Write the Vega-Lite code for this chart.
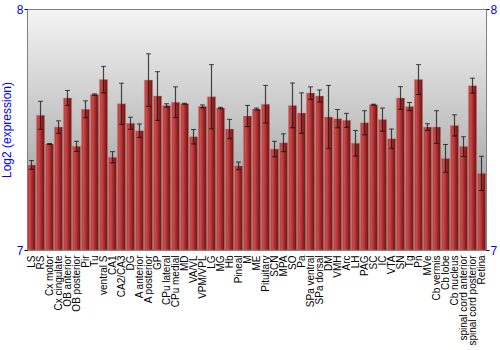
{
  "$schema": "https://vega.github.io/schema/vega-lite/v6.json",
  "width": 459,
  "height": 241,
  "autosize": {"type": "none"},
  "padding": {"left": 27, "top": 9, "right": 14, "bottom": 100},
  "background": "#ffffff",
  "config": {
    "font": "Liberation Sans",
    "view": {
      "stroke": "#808080",
      "strokeWidth": 1,
      "fill": {"gradient": "linear", "x1": 0, "y1": 0, "x2": 0, "y2": 1,
        "stops": [{"offset": 0, "color": "#f4f4f4"}, {"offset": 1, "color": "#8e8e8e"}]}
    }
  },
  "data": {"values": [
    {"region": "LS", "value": 7.353, "lo": 7.335, "hi": 7.371},
    {"region": "RS", "value": 7.559, "lo": 7.501, "hi": 7.617},
    {"region": "Cx motor", "value": 7.440, "lo": 7.438, "hi": 7.442},
    {"region": "Cx cingulate", "value": 7.510, "lo": 7.484, "hi": 7.536},
    {"region": "OB anterior", "value": 7.631, "lo": 7.600, "hi": 7.662},
    {"region": "OB posterior", "value": 7.430, "lo": 7.409, "hi": 7.451},
    {"region": "Pir", "value": 7.584, "lo": 7.549, "hi": 7.619},
    {"region": "Tu", "value": 7.645, "lo": 7.642, "hi": 7.648},
    {"region": "ventral S", "value": 7.707, "lo": 7.652, "hi": 7.762},
    {"region": "CA1", "value": 7.385, "lo": 7.362, "hi": 7.408},
    {"region": "CA2/CA3", "value": 7.607, "lo": 7.522, "hi": 7.692},
    {"region": "DG", "value": 7.526, "lo": 7.501, "hi": 7.551},
    {"region": "A anterior", "value": 7.495, "lo": 7.467, "hi": 7.523},
    {"region": "A posterior", "value": 7.705, "lo": 7.596, "hi": 7.814},
    {"region": "GP", "value": 7.639, "lo": 7.538, "hi": 7.740},
    {"region": "CPu lateral", "value": 7.600, "lo": 7.593, "hi": 7.607},
    {"region": "CPu medial", "value": 7.613, "lo": 7.549, "hi": 7.677},
    {"region": "MD", "value": 7.607, "lo": 7.605, "hi": 7.609},
    {"region": "VA/VL", "value": 7.470, "lo": 7.440, "hi": 7.500},
    {"region": "VPM/VPL", "value": 7.596, "lo": 7.590, "hi": 7.602},
    {"region": "LG", "value": 7.636, "lo": 7.503, "hi": 7.769},
    {"region": "MG", "value": 7.589, "lo": 7.586, "hi": 7.592},
    {"region": "Hb", "value": 7.502, "lo": 7.462, "hi": 7.542},
    {"region": "Pineal", "value": 7.349, "lo": 7.333, "hi": 7.365},
    {"region": "M", "value": 7.556, "lo": 7.512, "hi": 7.600},
    {"region": "ME", "value": 7.585, "lo": 7.581, "hi": 7.589},
    {"region": "Pituitary", "value": 7.605, "lo": 7.527, "hi": 7.683},
    {"region": "SCN", "value": 7.419, "lo": 7.387, "hi": 7.451},
    {"region": "MPA", "value": 7.445, "lo": 7.408, "hi": 7.482},
    {"region": "SO", "value": 7.600, "lo": 7.507, "hi": 7.693},
    {"region": "Pa", "value": 7.568, "lo": 7.484, "hi": 7.652},
    {"region": "SPa ventral", "value": 7.651, "lo": 7.625, "hi": 7.677},
    {"region": "SPa dorsal", "value": 7.639, "lo": 7.614, "hi": 7.664},
    {"region": "DM", "value": 7.552, "lo": 7.421, "hi": 7.683},
    {"region": "VMH", "value": 7.545, "lo": 7.507, "hi": 7.583},
    {"region": "Arc", "value": 7.538, "lo": 7.509, "hi": 7.567},
    {"region": "LH", "value": 7.443, "lo": 7.390, "hi": 7.496},
    {"region": "PAG", "value": 7.528, "lo": 7.478, "hi": 7.578},
    {"region": "SC", "value": 7.603, "lo": 7.601, "hi": 7.605},
    {"region": "IC", "value": 7.541, "lo": 7.493, "hi": 7.589},
    {"region": "VTA", "value": 7.462, "lo": 7.422, "hi": 7.502},
    {"region": "SN", "value": 7.631, "lo": 7.584, "hi": 7.678},
    {"region": "Tg", "value": 7.595, "lo": 7.578, "hi": 7.612},
    {"region": "Pn", "value": 7.707, "lo": 7.645, "hi": 7.769},
    {"region": "MVe", "value": 7.510, "lo": 7.496, "hi": 7.524},
    {"region": "Cb vermis", "value": 7.510, "lo": 7.442, "hi": 7.578},
    {"region": "Cb lobe", "value": 7.380, "lo": 7.322, "hi": 7.438},
    {"region": "Cb nucleus", "value": 7.517, "lo": 7.473, "hi": 7.561},
    {"region": "spinal cord anterior", "value": 7.429, "lo": 7.388, "hi": 7.470},
    {"region": "spinal cord posterior", "value": 7.682, "lo": 7.651, "hi": 7.713},
    {"region": "Retina", "value": 7.318, "lo": 7.247, "hi": 7.389}
  ]},
  "encoding": {
    "x": {
      "field": "region", "type": "nominal", "sort": null, "title": null,
      "scale": {"paddingInner": 0.1, "paddingOuter": 0.05},
      "axis": {"labelAngle": -90, "labelAlign": "right", "labelBaseline": "middle", "labelFontSize": 10, "labelColor": "#000000", "labelPadding": 5, "domain": false, "ticks": false, "labelOverlap": false}
    }
  },
  "layer": [
    {
      "mark": {"type": "bar", "stroke": "#d88a8a", "strokeWidth": 0.6, "strokeOpacity": 0.6,
        "fill": {"gradient": "linear", "x1": 0, "y1": 0, "x2": 1, "y2": 0,
          "stops": [{"offset": 0, "color": "#b03838"}, {"offset": 0.25, "color": "#c84a4a"}, {"offset": 0.6, "color": "#a02a2a"}, {"offset": 1, "color": "#6a1010"}]}},
      "encoding": {
        "y": {"field": "value", "type": "quantitative",
          "scale": {"domain": [7, 8], "zero": false, "nice": false},
          "axis": {"values": [7, 8], "format": "d", "title": "Log2 (expression)", "titleColor": "#0000ff", "titleFontSize": 12, "titleFontWeight": "normal", "titlePadding": 3, "labelColor": "#0000ff", "labelFontSize": 12, "labelPadding": 1, "tickSize": 3, "tickColor": "#000000", "domain": false, "grid": false}},
        "y2": {"datum": 7}
      }
    },
    {
      "mark": {"type": "errorbar", "ticks": {"size": 5, "color": "#000000", "strokeWidth": 1.2}, "rule": {"color": "#1a1a1a", "strokeWidth": 1.2, "opacity": 0.8}},
      "encoding": {
        "y": {"field": "lo", "type": "quantitative", "scale": {"domain": [7, 8], "zero": false, "nice": false}, "axis": null},
        "y2": {"field": "hi"}
      }
    },
    {
      "mark": {"type": "rule", "opacity": 0},
      "encoding": {
        "y": {"field": "value", "type": "quantitative", "axis": {"orient": "right", "values": [7, 8], "format": "d", "title": null, "labelColor": "#0000ff", "labelFontSize": 12, "labelPadding": 1, "tickSize": 3, "tickColor": "#000000", "domain": false, "grid": false}}
      }
    }
  ],
  "resolve": {"scale": {"y": "shared"}, "axis": {"y": "independent"}}
}
